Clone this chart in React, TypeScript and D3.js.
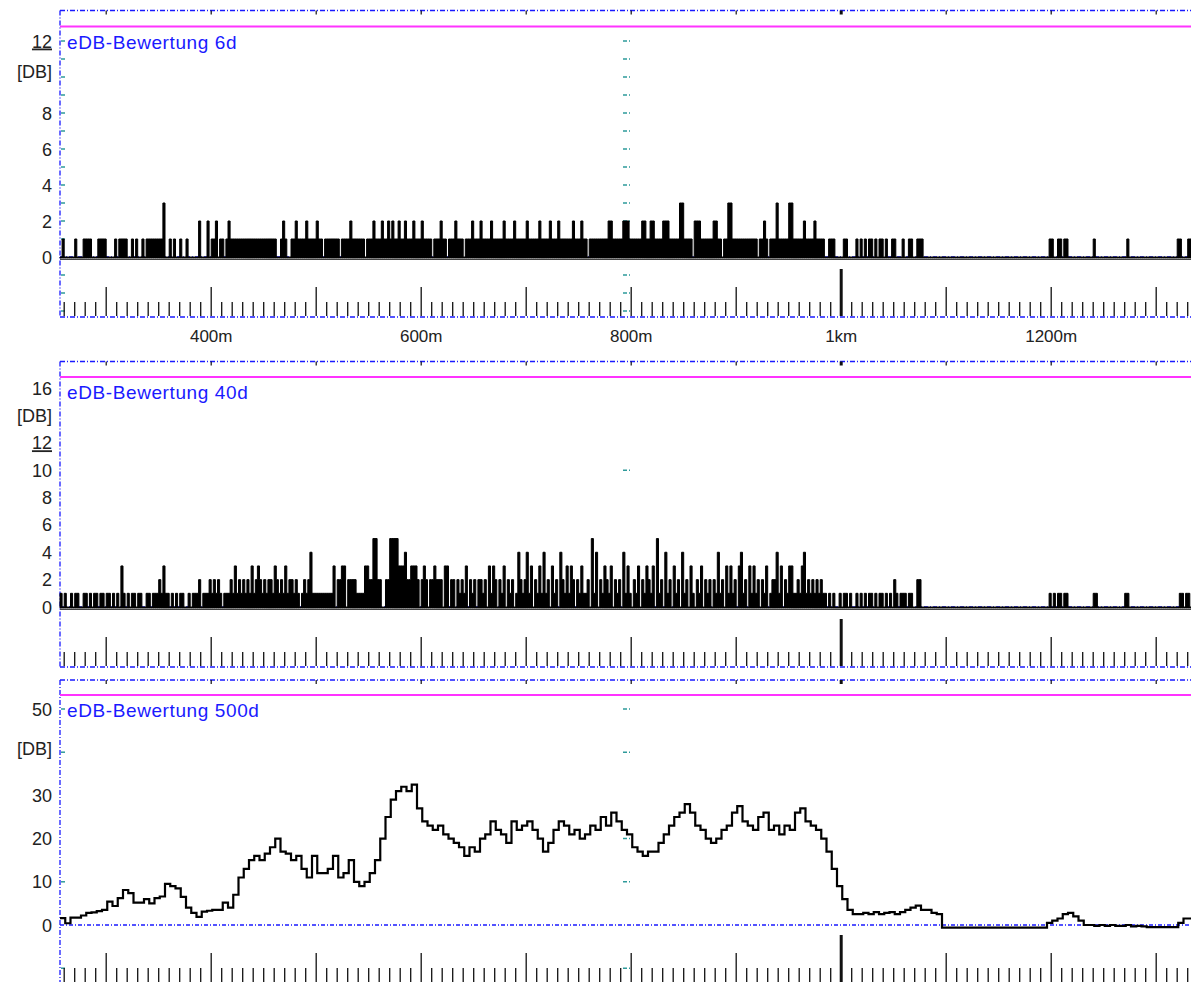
import * as d3 from "d3";

// distance axis, metres
const startM = 256;
const endM = 1334;
const binM = 2; // 6d / 40d bins
const bin500M = 5; // 500d bins

const xTickLabels = ["400m", "600m", "800m", "1km", "1200m"];
const xTickValues = [400, 600, 800, 1000, 1200];

// eDB-Bewertung 6d, one digit per 2 m bin
const eDB6d = [
  "0100000100", "0111100011", "1100001011", "1100101001", "0111111113",
  "0010100100", "1000002000", "2011201101", "2111111111", "1111111111",
  "1110012100", "1121111211", "1121101111", "1110111121", "1111101112",
  "1112112121", "1211211121", "1121111011", "1211011121", "1101112111",
  "2111121111", "1211112111", "1121111121", "1112111211", "1111211121",
  "1011111111", "1221111122", "2111111221", "1221111222", "1111133111",
  "1022211111", "1221101133", "1111111111", "1101121011", "1311111331",
  "1111211112", "1111001110", "0001100001", "0101011010", "1101001100",
  "0100110011", "1000000000", "0000000000", "0000000000", "0000000000",
  "0000000000", "0000000000", "0110011011", "0000000000", "0010000000",
  "0000000010", "0000000000", "0000000000", "001100011",
];

// eDB-Bewertung 40d, one digit per 2 m bin
const eDB40d = [
  "1010010110", "0110101101", "1011010103", "1010110110", "0110111213",
  "1101010110", "0101112011", "1212121011", "1213121212", "1312321212",
  "2132121312", "2121012124", "1111111111", "3022330222", "2111133225",
  "5220022555", "5333422333", "2023202232", "2203302202", "1213021202",
  "2120313202", "1302120142", "1241302131", "4120312042", "1313202131",
  "1205140213", "2130212041", "3102130213", "2130512041", "2031204120",
  "3102130212", "0214120313", "1203412031", "3120213012", "2413021331",
  "1213412121", "2121101010", "0101101001", "0101011010", "1101010210",
  "1110110022", "0000000000", "0000000000", "0000000000", "0000000000",
  "0000000000", "0000000000", "0101011011", "0000000000", "0011000000",
  "0000000110", "0000000000", "0000000000", "000110110",
];

// eDB-Bewertung 500d, one value per 5 m bin
const eDB500d = [
  1.6, 0.4, 1.7, 1.7, 2.2, 2.8, 2.9, 3.2, 3.5, 5.4,
  4.4, 6.2, 8.1, 7.4, 5.2, 5.2, 6, 5, 6.2, 6.6,
  9.5, 9, 8.5, 6.5, 4, 2.8, 1.9, 3.1, 3.3, 3.5,
  3.5, 5.2, 4, 7, 11, 13, 15, 16, 15, 16.5,
  18, 20, 17, 16.5, 15, 16, 13, 11, 16, 12,
  12, 13, 16, 11, 12, 15, 10, 9, 10, 12,
  15, 20, 25, 29, 31, 32, 31, 32.5, 27, 24,
  23, 22, 23, 21, 20, 19, 18, 16, 18, 17,
  20, 21, 24, 22, 21, 19, 24, 22, 23, 24,
  22, 20, 17, 19, 22, 24, 23, 21, 22, 20,
  21, 23, 22, 25, 23, 26, 24, 22, 21, 18,
  17, 16, 17, 17, 19, 21, 23, 25, 26, 28,
  26, 23, 22, 20, 19, 20, 22, 23, 26, 27.5,
  24, 23, 22, 25, 26, 22, 23, 21, 23, 22,
  26, 27, 24, 23, 22, 20, 17, 13, 9, 6,
  3.5, 2.5, 2.5, 2.8, 2.5, 3, 2.5, 2.8, 3, 2.5,
  3, 3.5, 4, 4.5, 3.5, 3.5, 2.8, 2.5, -0.6, -0.6,
  -0.6, -0.6, -0.6, -0.6, -0.6, -0.6, -0.6, -0.6, -0.6, -0.6,
  -0.6, -0.6, -0.6, -0.6, -0.6, -0.6, -0.6, -0.6, 0.5, 1,
  1.5, 2.5, 2.8, 2, 1, 0, 0, -0.2, 0, -0.2,
  0, -0.2, -0.2, 0, -0.3, -0.2, -0.3, -0.5, -0.5, -0.5,
  -0.5, -0.5, -0.5, 0.5, 1.5, 1.5,
];

const yTicks6d = ["0", "2", "4", "6", "8", "[DB]", "12"];
const yTickValues6d = [0, 2, 4, 6, 8, 10.3, 12];
const yTicks40d = ["0", "2", "4", "6", "8", "10", "12", "[DB]", "16"];
const yTickValues40d = [0, 2, 4, 6, 8, 10, 12, 14, 16];
const yTicks500d = ["0", "10", "20", "30", "[DB]", "50"];
const yTickValues500d = [0, 10, 20, 30, 40.8, 50];

const BLUE = "#1a1aff";
const TEAL = "#2e9a9a";
const MAGENTA = "#ff33ff";
const FONT = "'Liberation Sans', Arial, sans-serif";
const DASHDOT = "5,2,1,2";

const x = d3.scaleLinear().domain([startM, endM]).range([60, 1191.9]);

type Panel = {
  title: string;
  top: number;
  magenta: number;
  bottom: number;
  y: d3.ScaleLinear<number, number>;
  labels: string[];
  labelValues: number[];
  tealLeft: number[];
  tealMid: number[];
  kind: "bars" | "line";
  values: number[];
  bin: number;
  xLabels: boolean;
  groundLine: boolean;
};

const digits = (chunks: string[]) => chunks.join("").split("").map(Number);

const panels: Panel[] = [
  {
    title: "eDB-Bewertung 6d",
    top: 10.5,
    magenta: 26.5,
    bottom: 317,
    y: d3.scaleLinear().domain([0, 12]).range([257, 41]),
    labels: yTicks6d,
    labelValues: yTickValues6d,
    tealLeft: d3.range(-3, 13),
    tealMid: d3.range(-3, 13),
    kind: "bars",
    values: digits(eDB6d),
    bin: binM,
    xLabels: true,
    groundLine: true,
  },
  {
    title: "eDB-Bewertung 40d",
    top: 361.5,
    magenta: 377,
    bottom: 667,
    y: d3.scaleLinear().domain([0, 16]).range([607, 388]),
    labels: yTicks40d,
    labelValues: yTickValues40d,
    tealLeft: [],
    tealMid: [10],
    kind: "bars",
    values: digits(eDB40d),
    bin: binM,
    xLabels: false,
    groundLine: true,
  },
  {
    title: "eDB-Bewertung 500d",
    top: 680,
    magenta: 695,
    bottom: 983,
    y: d3.scaleLinear().domain([0, 50]).range([925, 709]),
    labels: yTicks500d,
    labelValues: yTickValues500d,
    tealLeft: [50, 40, 10, -10],
    tealMid: [50, 40, 20, 10, -10],
    kind: "line",
    values: eDB500d,
    bin: bin500M,
    xLabels: false,
    groundLine: false,
  },
];

const minorTicks = d3.range(260, endM + 1, 10);

function PanelView({ p }: { p: Panel }) {
  const y = p.y;
  const y0 = y(0);
  const pts = p.values.map((v, i) => ({ m: startM + i * p.bin, v }));
  pts.push({ m: startM + p.values.length * p.bin, v: p.values[p.values.length - 1] });

  let path = "";
  if (p.kind === "bars") {
    path =
      d3
        .area<{ m: number; v: number }>()
        .x((d) => x(d.m))
        .y0(y0 + 1)
        .y1((d) => y(d.v))
        .curve(d3.curveStepAfter)(pts) || "";
  } else {
    path =
      d3
        .line<{ m: number; v: number }>()
        .x((d) => x(d.m))
        .y((d) => y(d.v))
        .curve(d3.curveStepAfter)(pts) || "";
  }

  return (
    <g>
      {/* frame */}
      <line x1={60} x2={1191} y1={p.top} y2={p.top} stroke={BLUE} strokeWidth={1.3} strokeDasharray={DASHDOT} />
      <line x1={60} x2={60} y1={p.top} y2={p.bottom} stroke={BLUE} strokeWidth={1.3} strokeDasharray={DASHDOT} />
      <line x1={60} x2={1191} y1={p.bottom} y2={p.bottom} stroke={BLUE} strokeWidth={1.3} strokeDasharray={DASHDOT} />
      {xTickValues.concat([300, 500, 700, 900, 1100, 1300]).map((m) => (
        <line key={"tt" + m} x1={x(m)} x2={x(m)} y1={p.top} y2={p.top + 4} stroke="#111" strokeWidth={m === 1000 ? 3 : 1.2} />
      ))}
      <line x1={60} x2={1191} y1={p.magenta} y2={p.magenta} stroke={MAGENTA} strokeWidth={2} />

      {/* teal unit marks */}
      {p.tealLeft.map((v) => (
        <line key={"tl" + v} x1={61} x2={65} y1={y(v)} y2={y(v)} stroke={TEAL} strokeWidth={1.5} />
      ))}
      {p.tealMid.map((v) => (
        <line key={"tm" + v} x1={623} x2={630} y1={y(v)} y2={y(v)} stroke={TEAL} strokeWidth={1.5} strokeDasharray="4,2,1,2" />
      ))}

      {/* ground */}
      {p.groundLine && <line x1={60} x2={1191} y1={y0 + 2.5} y2={y0 + 2.5} stroke="#444" strokeWidth={1} />}
      <line x1={60} x2={1191} y1={y0} y2={y0} stroke={BLUE} strokeWidth={1.3} strokeDasharray="4,2,1,2" />

      {/* data */}
      {p.kind === "bars" ? (
        <path d={path} fill="#000" stroke="#000" strokeWidth={1} strokeLinejoin="miter" />
      ) : (
        <path d={path} fill="none" stroke="#000" strokeWidth={2.2} />
      )}

      {/* distance ticks */}
      {minorTicks.map((m) => {
        const big = m === 1000;
        const med = m % 100 === 0;
        const h = big ? 48 : med ? 30 : 15;
        return (
          <line key={"mt" + m} x1={x(m)} x2={x(m)} y1={p.bottom - h} y2={p.bottom - 1} stroke="#111" strokeWidth={big ? 3 : 1.3} />
        );
      })}
      {p.xLabels &&
        xTickValues.map((m, i) => (
          <text key={"xl" + m} x={x(m)} y={p.bottom + 25} textAnchor="middle" fontFamily={FONT} fontSize={17} fill="#222">
            {xTickLabels[i]}
          </text>
        ))}

      {/* value labels */}
      {p.labels.map((t, i) => (
        <text
          key={"yl" + i}
          x={52}
          y={y(p.labelValues[i]) + 6.5}
          textAnchor="end"
          fontFamily={FONT}
          fontSize={18}
          fill="#222"
          textDecoration={t === "12" ? "underline" : undefined}
        >
          {t}
        </text>
      ))}
      <text x={67} y={p.magenta + 22} fontFamily={FONT} fontSize={19} letterSpacing={0.6} fill={BLUE}>
        {p.title}
      </text>
    </g>
  );
}

export default function App() {
  return (
    <div style={{ position: "absolute", left: 0, top: 0 }}>
      <svg width={1191} height={982} style={{ display: "block", background: "#fff" }}>
        {panels.map((p) => (
          <PanelView key={p.title} p={p} />
        ))}
      </svg>
    </div>
  );
}
